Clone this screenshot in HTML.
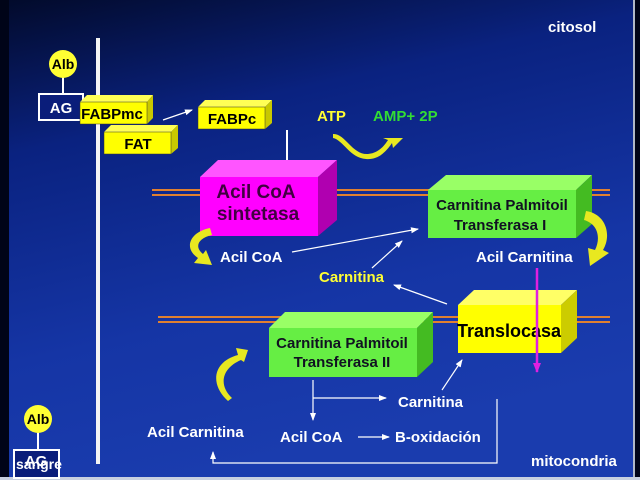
<!DOCTYPE html>
<html><head><meta charset="utf-8"><style>
html,body{margin:0;padding:0;width:640px;height:480px;overflow:hidden;background:#000}
svg{display:block}
text{font-family:"Liberation Sans",Arial,sans-serif;font-weight:bold}
</style></head><body>
<svg width="640" height="480" viewBox="0 0 640 480" xmlns="http://www.w3.org/2000/svg">
<defs>
<linearGradient id="bg" x1="0" y1="0" x2="0.3" y2="1">
<stop offset="0" stop-color="#020a2a"/>
<stop offset="0.3" stop-color="#0a2280"/>
<stop offset="0.7" stop-color="#1535a5"/>
<stop offset="1" stop-color="#1a3cae"/>
</linearGradient>
<marker id="ah" markerUnits="userSpaceOnUse" markerWidth="8" markerHeight="8" refX="7" refY="4" orient="auto"><path d="M0,1 L8,4 L0,7 z" fill="#fff"/></marker>
<marker id="mh" markerUnits="userSpaceOnUse" markerWidth="10" markerHeight="10" refX="9" refY="5" orient="auto"><path d="M0,1 L10,5 L0,9 z" fill="#e020e0"/></marker>
</defs>
<rect x="0" y="0" width="640" height="480" fill="url(#bg)"/>
<rect x="0" y="0" width="9" height="480" fill="#000418"/>
<rect x="633" y="0" width="2" height="480" fill="#b0b8c8"/>
<rect x="635" y="0" width="5" height="480" fill="#000418"/>
<rect x="0" y="477" width="640" height="3" fill="#c8d0e0"/>

<g>
<rect x="152" y="189" width="458" height="2" fill="#e08030"/>
<rect x="152" y="194" width="458" height="2" fill="#e08030"/>
<rect x="158" y="316" width="452" height="2" fill="#e08030"/>
<rect x="158" y="321" width="452" height="2" fill="#e08030"/>
</g>
<rect x="96" y="38" width="4" height="426" fill="#f4f4f4"/>

<line x1="63" y1="76" x2="63" y2="96" stroke="#fff" stroke-width="2"/>
<circle cx="63" cy="64" r="14" fill="#ffff33"/>
<text x="63" y="69" font-size="14" text-anchor="middle" fill="#000">Alb</text>
<rect x="39" y="94" width="44" height="26" fill="#0a1d7a" stroke="#fff" stroke-width="2"/>
<text x="61" y="113" font-size="15" text-anchor="middle" fill="#fff">AG</text>

<polygon points="80,102 87,95 153,95 147,102" fill="#ffff55"/>
<polygon points="147,102 153,95 153,118 147,124" fill="#c8c800"/>
<rect x="80" y="102" width="67" height="22" fill="#ffff00" stroke="#333" stroke-width="0.5"/>
<text x="112" y="119" font-size="15" text-anchor="middle" fill="#000">FABPmc</text>
<polygon points="104,132 111,125 178,125 171,132" fill="#ffff55"/>
<polygon points="171,132 178,125 178,148 171,154" fill="#c8c800"/>
<rect x="104" y="132" width="67" height="22" fill="#ffff00" stroke="#333" stroke-width="0.5"/>
<text x="138" y="149" font-size="15" text-anchor="middle" fill="#000">FAT</text>
<polygon points="198,107 205,100 272,100 265,107" fill="#ffff55"/>
<polygon points="265,107 272,100 272,123 265,129" fill="#c8c800"/>
<rect x="198" y="107" width="67" height="22" fill="#ffff00" stroke="#333" stroke-width="0.5"/>
<text x="232" y="124" font-size="15" text-anchor="middle" fill="#000">FABPc</text>
<line x1="163" y1="120" x2="192" y2="110" stroke="#fff" stroke-width="1.2" marker-end="url(#ah)"/>
<line x1="287" y1="130" x2="287" y2="172" stroke="#fff" stroke-width="2" marker-end="url(#ah)"/>

<polygon points="200,177 218,160 337,160 318,177" fill="#ff55ff"/>
<polygon points="318,177 337,160 337,220 318,236" fill="#b000b0"/>
<rect x="200" y="177" width="118" height="59" fill="#ff00ff"/>
<text x="256" y="198" font-size="19" text-anchor="middle" fill="#400040">Acil CoA</text>
<text x="258" y="220" font-size="19" text-anchor="middle" fill="#400040">sintetasa</text>

<text x="317" y="121" font-size="15" fill="#ffff33">ATP</text>
<text x="373" y="121" font-size="15" fill="#33dd33">AMP+ 2P</text>
<path d="M333,134 C345,133 352,155 368,154 C380,153 386,143 388,140 L383,138 L403,138 L393,148 L392,143 C386,152 378,160 366,159 C350,158 343,140 333,138 z" fill="#e8e820"/>

<polygon points="428,190 446,175 592,175 576,190" fill="#99ff66"/>
<polygon points="576,190 592,175 592,224 576,238" fill="#44bb22"/>
<rect x="428" y="190" width="148" height="48" fill="#66ee44"/>
<text x="502" y="210" font-size="15" text-anchor="middle" fill="#112">Carnitina Palmitoil</text>
<text x="500" y="230" font-size="15" text-anchor="middle" fill="#112">Transferasa I</text>

<path d="M210,228 C190,232 183,248 198,258 L194,263 L212,265 L206,250 L203,254 C194,247 198,238 212,235 z" fill="#e8e820"/>
<path d="M586,211 C606,214 612,235 603,250 L609,253 L590,266 L588,248 L595,250 C601,238 598,224 584,220 z" fill="#e8e820"/>
<path d="M228,401 C210,385 212,362 238,355 L236,348 L248,350 L244,362 L241,360 C222,368 218,385 232,398 z" fill="#e8e820"/>

<text x="220" y="262" font-size="15" fill="#fff">Acil CoA</text>
<text x="476" y="262" font-size="15" fill="#fff">Acil Carnitina</text>
<text x="319" y="282" font-size="15" fill="#ffff33">Carnitina</text>
<line x1="292" y1="252" x2="418" y2="229" stroke="#fff" stroke-width="1.2" marker-end="url(#ah)"/>
<line x1="372" y1="268" x2="402" y2="241" stroke="#fff" stroke-width="1.2" marker-end="url(#ah)"/>
<line x1="447" y1="304" x2="394" y2="285" stroke="#fff" stroke-width="1.2" marker-end="url(#ah)"/>

<polygon points="458,305 474,290 577,290 561,305" fill="#ffff66"/>
<polygon points="561,305 577,290 577,338 561,353" fill="#cccc00"/>
<rect x="458" y="305" width="103" height="48" fill="#ffff00"/>
<text x="509" y="337" font-size="18" text-anchor="middle" fill="#000">Translocasa</text>
<line x1="537" y1="268" x2="537" y2="372" stroke="#e020e0" stroke-width="2.5" marker-end="url(#mh)"/>

<polygon points="269,328 285,312 433,312 417,328" fill="#99ff66"/>
<polygon points="417,328 433,312 433,362 417,377" fill="#44bb22"/>
<rect x="269" y="328" width="148" height="49" fill="#66ee44"/>
<text x="342" y="348" font-size="15" text-anchor="middle" fill="#112">Carnitina Palmitoil</text>
<text x="342" y="367" font-size="15" text-anchor="middle" fill="#112">Transferasa II</text>

<line x1="313" y1="380" x2="313" y2="420" stroke="#fff" stroke-width="1.2" marker-end="url(#ah)"/>
<line x1="313" y1="398" x2="386" y2="398" stroke="#fff" stroke-width="1.2" marker-end="url(#ah)"/>
<text x="398" y="407" font-size="15" fill="#fff">Carnitina</text>
<line x1="442" y1="390" x2="462" y2="360" stroke="#fff" stroke-width="1.2" marker-end="url(#ah)"/>
<text x="280" y="442" font-size="15" fill="#fff">Acil CoA</text>
<line x1="358" y1="437" x2="389" y2="437" stroke="#fff" stroke-width="1.2" marker-end="url(#ah)"/>
<text x="395" y="442" font-size="15" fill="#fff">B-oxidación</text>
<text x="147" y="437" font-size="15" fill="#fff">Acil Carnitina</text>
<polyline points="497,399 497,463 213,463 213,452" fill="none" stroke="#fff" stroke-width="1.2" marker-end="url(#ah)"/>

<line x1="38" y1="430" x2="38" y2="450" stroke="#fff" stroke-width="2"/>
<circle cx="38" cy="419" r="14" fill="#ffff33"/>
<text x="38" y="424" font-size="14" text-anchor="middle" fill="#000">Alb</text>
<rect x="14" y="450" width="45" height="28" fill="#0a1d7a" stroke="#fff" stroke-width="2"/>
<text x="36" y="466" font-size="15" text-anchor="middle" fill="#fff">AG</text>
<text x="16" y="469" font-size="14" fill="#fff">sangre</text>

<text x="548" y="32" font-size="15" fill="#fff">citosol</text>
<text x="531" y="466" font-size="15" fill="#fff">mitocondria</text>
</svg>
</body></html>
